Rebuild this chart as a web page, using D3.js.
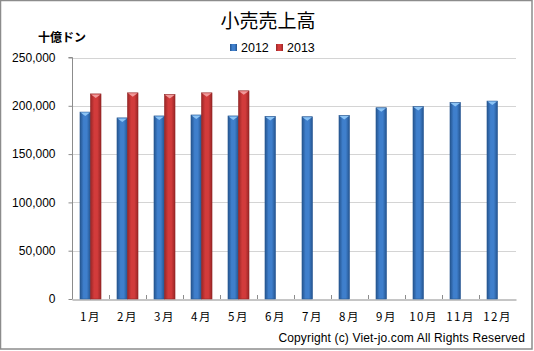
<!DOCTYPE html>
<html><head><meta charset="utf-8">
<script src="https://cdn.jsdelivr.net/npm/d3@7"></script>
<style>body{margin:0;background:#fff}svg{display:block}</style>
</head><body>
<svg id="c" width="534" height="351"></svg>
<script>
const categories = ["1月","2月","3月","4月","5月","6月","7月","8月","9月","10月","11月","12月"];
const seriesNames = ["2012","2013"];
const values2012 = [193500,187500,189500,190500,189500,189000,188700,190000,198000,199200,203400,204900];
const values2013 = [212300,213400,211600,213400,215500,null,null,null,null,null,null,null];
const yTicks = [0,50000,100000,150000,200000,250000];

const svg = d3.select("#c");
const m = {l:72, r:516, t:57.5, b:299};
const jp = "'Noto Sans CJK JP', sans-serif";
const lat = "'Liberation Sans', Arial, sans-serif";

svg.append("rect").attr("x",0.5).attr("y",0.5).attr("width",531.5).attr("height",348.5)
  .attr("fill","#fff").attr("stroke","#8c8c8c").attr("stroke-width",1.5);

const defs = svg.append("defs");
function grad(id, edge, mid){
  const g = defs.append("linearGradient").attr("id",id).attr("x1","0").attr("x2","1").attr("y1","0").attr("y2","0");
  g.append("stop").attr("offset","0%").attr("stop-color",edge);
  g.append("stop").attr("offset","35%").attr("stop-color",mid);
  g.append("stop").attr("offset","65%").attr("stop-color",mid);
  g.append("stop").attr("offset","100%").attr("stop-color",edge);
}
grad("gb","#24548f","#3f7fcc");
grad("gr","#9a2626","#d23b3b");

const x = d3.scaleBand().domain(categories).range([m.l, m.r]).paddingInner(0).paddingOuter(0);
const xs = d3.scaleBand().domain(seriesNames).range([0, x.bandwidth()]).paddingInner(0).paddingOuter(0.76);
const y = d3.scaleLinear().domain([0,250000]).range([m.b, m.t]);

svg.append("g").selectAll("line").data(yTicks.filter(d=>d>0)).join("line")
  .attr("x1",m.l).attr("x2",m.r).attr("y1",d=>Math.round(y(d))+0.5).attr("y2",d=>Math.round(y(d))+0.5)
  .attr("stroke","#d4d4d4").attr("stroke-width",1);

const ya = svg.append("g").attr("transform",`translate(${m.l+0.5},0)`)
  .call(d3.axisLeft(y).tickValues(yTicks).tickFormat(d3.format(",")).tickSize(4).tickPadding(13));
ya.select(".domain").attr("stroke","#8c8c8c").attr("d",`M-4,${m.t}H0V${m.b}`);
ya.selectAll(".tick line").attr("stroke","#8c8c8c");
ya.selectAll(".tick text").attr("font-family",lat).attr("font-size","12px").attr("fill","#000");

const xa = svg.append("g").attr("transform",`translate(0,${Math.round(m.b)+0.5})`)
  .call(d3.axisBottom(x).tickSize(0).tickPadding(13));
xa.select(".domain").attr("stroke","#8c8c8c");
xa.selectAll(".tick text").attr("font-family",jp).attr("font-size","11.5px").attr("fill","#000").attr("letter-spacing","1.5px");
svg.append("g").selectAll("line").data(categories.slice(1)).join("line")
  .attr("x1",d=>Math.round(x(d))+0.5).attr("x2",d=>Math.round(x(d))+0.5)
  .attr("y1",m.b-4).attr("y2",m.b).attr("stroke","#8c8c8c");

const data = [];
categories.forEach((c,i)=>{
  data.push({c, s:"2012", v:values2012[i]});
  if(values2013[i]!=null) data.push({c, s:"2013", v:values2013[i]});
});
const bars = svg.append("g").selectAll("g").data(data).join("g");
bars.append("rect")
  .attr("x",d=>x(d.c)+xs(d.s)).attr("width",xs.bandwidth())
  .attr("y",d=>y(d.v)).attr("height",d=>m.b-y(d.v))
  .attr("fill",d=>d.s==="2012"?"url(#gb)":"url(#gr)")
  .attr("stroke",d=>d.s==="2012"?"#2b5b94":"#932525").attr("stroke-width",0.6);
bars.append("path")
  .attr("d",d=>{const x0=x(d.c)+xs(d.s), w=xs.bandwidth(), t=y(d.v);
    return `M${x0+0.5},${t+0.5}H${x0+w-0.5}L${x0+w/2},${t+4}Z`;})
  .attr("fill",d=>d.s==="2012"?"#8cc4f5":"#f19a9a");

svg.append("text").attr("x",268).attr("y",28).attr("text-anchor","middle")
  .attr("font-family",jp).attr("font-size","19px").attr("fill","#000").text("小売売上高");
svg.append("text").attr("x",38).attr("y",42)
  .attr("font-family",jp).attr("font-size","12px").attr("font-weight","bold").attr("fill","#000").text("十億ドン");

const lg = svg.append("g");
const lx = [230, 276];
seriesNames.forEach((s,i)=>{
  lg.append("rect").attr("x",lx[i]).attr("y",44).attr("width",7).attr("height",7)
    .attr("fill",i===0?"url(#gb)":"url(#gr)");
  lg.append("text").attr("x",lx[i]+11).attr("y",52).attr("font-family",lat).attr("font-size","12.5px").attr("fill","#000").text(s);
});

svg.append("text").attr("x",525).attr("y",342).attr("text-anchor","end")
  .attr("font-family",lat).attr("font-size","12px").attr("letter-spacing","0.15px").attr("fill","#000").text("Copyright (c) Viet-jo.com  All Rights Reserved");
</script>
</body></html>
